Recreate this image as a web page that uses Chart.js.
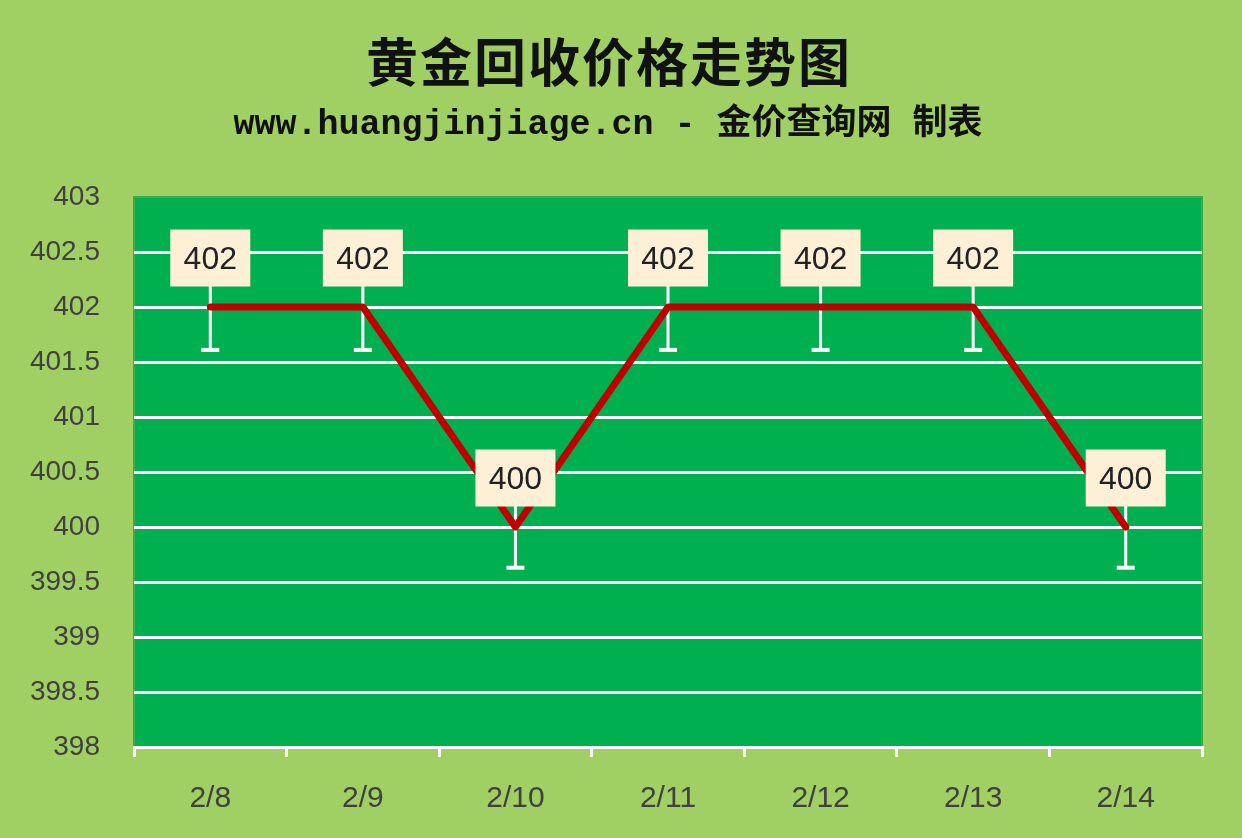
<!DOCTYPE html>
<html>
<head>
<meta charset="utf-8">
<script src="https://cdn.jsdelivr.net/npm/chart.js@4/dist/chart.umd.min.js"></script>
<style>
  html, body { margin: 0; padding: 0; background: #a0d064; }
  #wrap { width: 1242px; height: 838px; }
</style>
</head>
<body>
<div id="wrap"><canvas id="gold-chart" width="1242" height="838"></canvas></div>
<script>
const TITLE = '黄金回收价格走势图';
const SUBTITLE = 'www.huangjinjiage.cn - 金价查询网 制表';

const dates = ['2/8', '2/9', '2/10', '2/11', '2/12', '2/13', '2/14'];
const prices = [402, 402, 400, 402, 402, 402, 400];
// lower error bar length
const errMinus = [0.39, 0.39, 0.37, 0.39, 0.39, 0.39, 0.37];
const yMin = 398;
const yMax = 403;
const yStep = 0.5;

const OUTER_BG = '#a0d064';
const PLOT_BG = '#00b050';
const LINE_RED = '#c00000';
const TEXT_GREY = '#404040';

// backgrounds + titles
const backdrop = {
  id: 'backdrop',
  beforeDraw(chart) {
    const { ctx, chartArea: a } = chart;
    ctx.save();
    ctx.fillStyle = OUTER_BG;
    ctx.fillRect(0, 0, chart.width, chart.height);
    ctx.fillStyle = PLOT_BG;
    ctx.fillRect(a.left, a.top, a.right - a.left, a.bottom - a.top);
    ctx.strokeStyle = '#3fa84a';
    ctx.lineWidth = 2;
    ctx.strokeRect(a.left, a.top, a.right - a.left, a.bottom - a.top);

    ctx.fillStyle = '#111';
    ctx.textAlign = 'center';
    ctx.textBaseline = 'middle';
    ctx.font = 'bold 52px "Noto Sans CJK SC"';
    ctx.letterSpacing = '2px';
    ctx.fillText(TITLE, 609, 62);
    ctx.letterSpacing = '0px';
    ctx.font = 'bold 35px "Liberation Mono", "Noto Sans CJK SC"';
    ctx.fillText(SUBTITLE, 608, 125);
    ctx.restore();
  },
};

// whiskers under the line, label boxes over it
const whiskersAndLabels = {
  id: 'whiskersAndLabels',
  beforeDatasetsDraw(chart) {
    const { ctx } = chart;
    const y = chart.scales.y;
    const meta = chart.getDatasetMeta(0);
    ctx.save();
    ctx.strokeStyle = '#ffffff';
    meta.data.forEach((pt, i) => {
      const yLow = y.getPixelForValue(prices[i] - errMinus[i]);
      ctx.lineWidth = 3;
      ctx.beginPath();
      ctx.moveTo(pt.x, pt.y - 28);
      ctx.lineTo(pt.x, yLow);
      ctx.stroke();
      ctx.lineWidth = 4;
      ctx.beginPath();
      ctx.moveTo(pt.x - 9, yLow);
      ctx.lineTo(pt.x + 9, yLow);
      ctx.stroke();
    });
    ctx.restore();
  },
  afterDatasetsDraw(chart) {
    const { ctx } = chart;
    const meta = chart.getDatasetMeta(0);
    ctx.save();
    meta.data.forEach((pt, i) => {
      const w = 80, h = 57;
      const cx = pt.x, cy = pt.y - 49;
      ctx.fillStyle = '#fdf0d6';
      ctx.fillRect(cx - w / 2, cy - h / 2, w, h);
      ctx.fillStyle = '#222';
      ctx.font = '32px "Liberation Sans", Arial';
      ctx.textAlign = 'center';
      ctx.textBaseline = 'middle';
      ctx.fillText(String(prices[i]), cx, cy + 2);
    });
    ctx.restore();
  },
};

new Chart(document.getElementById('gold-chart'), {
  type: 'line',
  data: {
    labels: dates,
    datasets: [
      {
        data: prices,
        borderColor: LINE_RED,
        borderWidth: 7,
        borderCapStyle: 'round',
        borderJoinStyle: 'round',
        pointRadius: 0,
        tension: 0,
      },
    ],
  },
  options: {
    responsive: false,
    animation: false,
    devicePixelRatio: 1,
    layout: { padding: { top: 197, right: 40, left: 0, bottom: 0 } },
    plugins: {
      legend: { display: false },
      tooltip: { enabled: false },
    },
    scales: {
      x: {
        offset: true,
        grid: {
          offset: true,
          drawOnChartArea: false,
          drawTicks: true,
          tickLength: 10,
          color: '#ffffff',
          lineWidth: 3,
        },
        border: { color: '#ffffff', width: 3 },
        ticks: {
          color: TEXT_GREY,
          font: { family: '"Liberation Sans", Arial', size: 30 },
          padding: 24,
        },
        afterFit: (scale) => { scale.height = 91; },
      },
      y: {
        min: yMin,
        max: yMax,
        grid: {
          color: (c) => (c.tick && c.tick.value === yMax ? 'rgba(0,0,0,0)' : '#ffffff'),
          lineWidth: 3,
          drawTicks: false,
        },
        border: { display: false },
        ticks: {
          stepSize: yStep,
          color: TEXT_GREY,
          font: { family: '"Liberation Sans", Arial', size: 28 },
          padding: 34,
          callback: (value) => String(value),
        },
        afterFit: (scale) => { scale.width = 134; },
      },
    },
  },
  plugins: [backdrop, whiskersAndLabels],
});
</script>
</body>
</html>
